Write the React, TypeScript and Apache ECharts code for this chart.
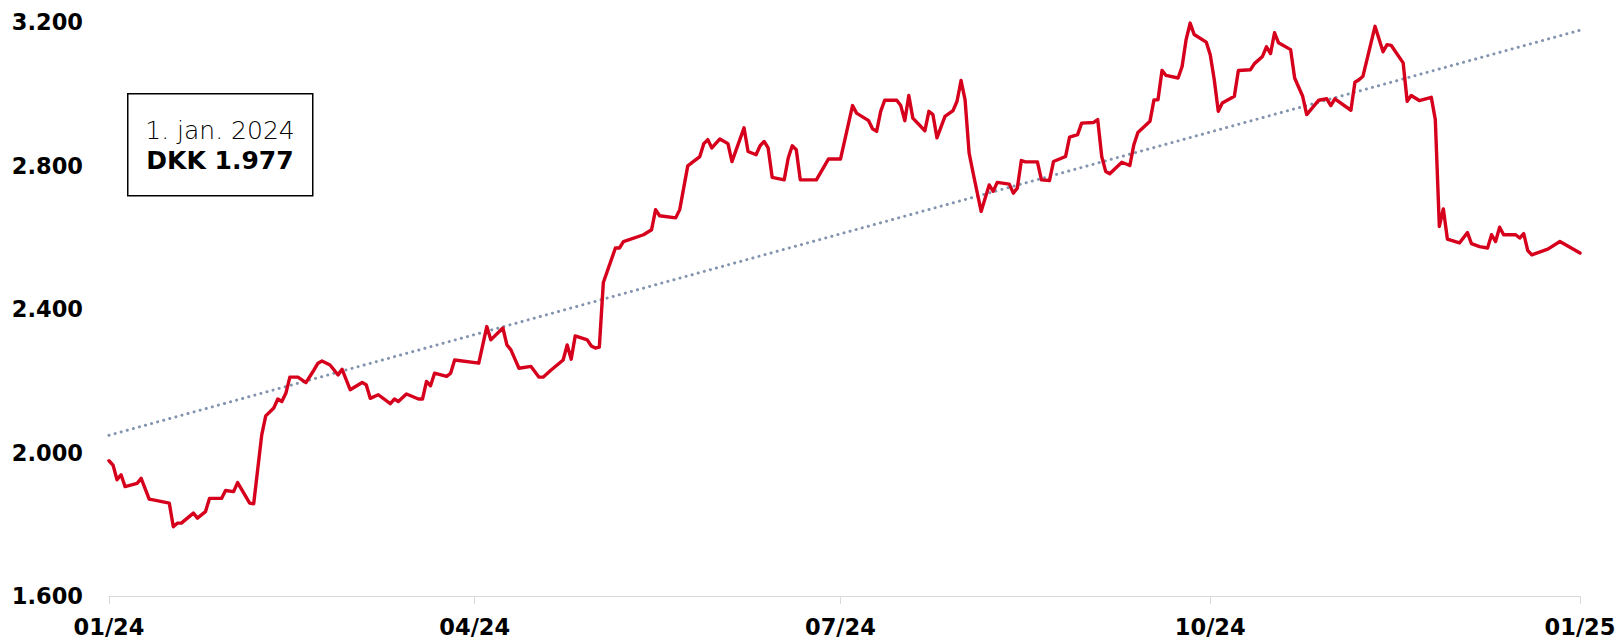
import React, { useEffect, useRef } from "react";
import * as echarts from "echarts";

const dates: string[] = [
  "2024-01-01","2024-01-02","2024-01-03","2024-01-04","2024-01-05","2024-01-08","2024-01-09","2024-01-11","2024-01-12","2024-01-16",
  "2024-01-17","2024-01-18","2024-01-19","2024-01-22","2024-01-23","2024-01-25","2024-01-26","2024-01-29","2024-01-30","2024-02-01",
  "2024-02-02","2024-02-05","2024-02-06","2024-02-08","2024-02-09","2024-02-11","2024-02-12","2024-02-13","2024-02-14","2024-02-15",
  "2024-02-17","2024-02-19","2024-02-21","2024-02-22","2024-02-23","2024-02-25","2024-02-27","2024-02-28","2024-03-01","2024-03-04",
  "2024-03-05","2024-03-06","2024-03-08","2024-03-11","2024-03-12","2024-03-13","2024-03-15","2024-03-18","2024-03-19","2024-03-20",
  "2024-03-21","2024-03-22","2024-03-25","2024-03-26","2024-03-27","2024-04-02","2024-04-04","2024-04-05","2024-04-08","2024-04-09",
  "2024-04-10","2024-04-12","2024-04-15","2024-04-17","2024-04-18","2024-04-20","2024-04-23","2024-04-24","2024-04-25","2024-04-26",
  "2024-04-29","2024-04-30","2024-05-01","2024-05-02","2024-05-03","2024-05-06","2024-05-07","2024-05-08","2024-05-13","2024-05-15",
  "2024-05-16","2024-05-17","2024-05-21","2024-05-22","2024-05-24","2024-05-27","2024-05-28","2024-05-29","2024-05-30","2024-06-01",
  "2024-06-03","2024-06-04","2024-06-07","2024-06-08","2024-06-10","2024-06-11","2024-06-12","2024-06-13","2024-06-14","2024-06-17",
  "2024-06-18","2024-06-19","2024-06-20","2024-06-21","2024-06-25","2024-06-28","2024-07-01","2024-07-04","2024-07-05","2024-07-08",
  "2024-07-09","2024-07-10","2024-07-11","2024-07-12","2024-07-15","2024-07-16","2024-07-17","2024-07-18","2024-07-19","2024-07-22",
  "2024-07-23","2024-07-24","2024-07-25","2024-07-27","2024-07-29","2024-07-30","2024-07-31","2024-08-01","2024-08-02","2024-08-03",
  "2024-08-05","2024-08-07","2024-08-08","2024-08-09","2024-08-12","2024-08-13","2024-08-14","2024-08-15","2024-08-16","2024-08-19",
  "2024-08-20","2024-08-22","2024-08-23","2024-08-26","2024-08-27","2024-08-29","2024-08-30","2024-09-02","2024-09-03","2024-09-04",
  "2024-09-05","2024-09-06","2024-09-09","2024-09-11","2024-09-12","2024-09-13","2024-09-16","2024-09-17","2024-09-18","2024-09-19",
  "2024-09-20","2024-09-23","2024-09-24","2024-09-25","2024-09-26","2024-09-27","2024-09-30","2024-10-01","2024-10-02","2024-10-03",
  "2024-10-04","2024-10-07","2024-10-08","2024-10-11","2024-10-12","2024-10-14","2024-10-15","2024-10-16","2024-10-17","2024-10-18",
  "2024-10-21","2024-10-22","2024-10-24","2024-10-25","2024-10-28","2024-10-30","2024-10-31","2024-11-01","2024-11-05","2024-11-06",
  "2024-11-07","2024-11-08","2024-11-11","2024-11-13","2024-11-14","2024-11-15","2024-11-18","2024-11-19","2024-11-20","2024-11-22",
  "2024-11-25","2024-11-26","2024-11-27","2024-11-28","2024-11-29","2024-12-02","2024-12-04","2024-12-05","2024-12-07","2024-12-09",
  "2024-12-10","2024-12-11","2024-12-12","2024-12-13","2024-12-16","2024-12-17","2024-12-18","2024-12-19","2024-12-20","2024-12-24",
  "2024-12-27","2025-01-01",
];

const prices: number[] = [
  1977,1965,1924,1938,1905,1914,1928,1870,1868,1859,
  1793,1803,1803,1831,1817,1835,1872,1872,1894,1891,
  1916,1859,1857,2049,2102,2124,2149,2142,2165,2210,
  2210,2195,2230,2249,2255,2244,2216,2232,2175,2195,
  2189,2151,2161,2136,2149,2142,2163,2149,2149,2198,
  2186,2221,2212,2221,2258,2249,2351,2314,2347,2300,
  2286,2235,2240,2210,2210,2230,2258,2300,2260,2325,
  2314,2297,2291,2294,2474,2570,2570,2588,2607,2621,
  2677,2660,2654,2677,2799,2825,2861,2872,2849,2874,
  2861,2811,2905,2839,2830,2855,2867,2849,2767,2760,
  2821,2855,2844,2760,2760,2818,2818,2967,2946,2925,
  2902,2895,2951,2982,2982,2967,2925,2995,2932,2897,
  2951,2942,2877,2937,2953,2979,3037,2983,2835,2779,
  2672,2746,2728,2753,2748,2723,2737,2814,2810,2810,
  2760,2758,2811,2825,2879,2886,2918,2920,2928,2825,
  2783,2777,2809,2800,2858,2892,2923,2983,2983,3065,
  3051,3044,3076,3151,3197,3165,3144,3109,3039,2951,
  2974,2993,3065,3067,3084,3104,3131,3112,3170,3142,
  3123,3044,2993,2942,2982,2986,2967,2986,2954,3032,
  3039,3049,3188,3117,3137,3135,3086,2979,2995,2981,
  2990,2928,2630,2679,2595,2584,2613,2582,2574,2570,
  2607,2588,2628,2607,2607,2598,2610,2563,2551,2567,
  2588,2556,
];

const trendDates: string[] = ["2024-01-01", "2025-01-01"];
const trendValues: number[] = [2048, 3177];

const xTickDates: string[] = ["2024-01-01", "2024-04-01", "2024-07-01", "2024-10-01", "2025-01-01"];
const xTickLabels: string[] = ["01/24", "04/24", "07/24", "10/24", "01/25"];
const yTicks: number[] = [1600, 2000, 2400, 2800, 3200];

const boxDate = "1. jan. 2024";
const boxValue = "DKK 1.977";

const toTs = (s: string) => {
  const [y, m, d] = s.split("-").map(Number);
  return Date.UTC(y, m - 1, d);
};

const danish = (v: number) => String(v).replace(/\B(?=(\d{3})+(?!\d))/g, ".");

export default function App() {
  const ref = useRef<HTMLDivElement>(null);
  useEffect(() => {
    if (!ref.current) return;
    const chart = echarts.init(ref.current, null, { renderer: "svg" });
    const xTickTs = xTickDates.map(toTs);
    const axisFont = "DejaVu Sans";
    chart.setOption({
      animation: false,
      backgroundColor: "#ffffff",
      grid: { left: 109, right: 42, top: 22, bottom: 44, containLabel: false },
      xAxis: {
        type: "value",
        min: xTickTs[0],
        max: xTickTs[xTickTs.length - 1],
        axisLine: { show: true, lineStyle: { color: "#d9d9d9", width: 1 } },
        axisTick: {
          show: true,
          length: 8,
          customValues: xTickTs,
          lineStyle: { color: "#d9d9d9", width: 1 },
        },
        axisLabel: {
          customValues: xTickTs,
          formatter: (v: number) => {
            const i = xTickTs.indexOf(v);
            return i >= 0 ? xTickLabels[i] : "";
          },
          color: "#000",
          fontFamily: axisFont,
          fontWeight: "bold",
          fontSize: 22.5,
          margin: 19,
          showMinLabel: true,
          showMaxLabel: true,
        },
        splitLine: { show: false },
      },
      yAxis: {
        type: "value",
        min: yTicks[0],
        max: yTicks[yTicks.length - 1],
        interval: yTicks[1] - yTicks[0],
        axisLine: { show: false },
        axisTick: { show: false },
        splitLine: { show: false },
        axisLabel: {
          formatter: (v: number) => danish(v),
          color: "#000",
          fontFamily: axisFont,
          fontWeight: "bold",
          fontSize: 22.5,
          margin: 26,
        },
      },
      series: [
        {
          type: "line",
          data: trendDates.map((d, i) => [toTs(d), trendValues[i]]),
          showSymbol: false,
          silent: true,
          lineStyle: { color: "#8394ae", width: 3, type: [0.1, 6.2], cap: "round" },
          z: 1,
        },
        {
          type: "line",
          data: dates.map((d, i) => [toTs(d), prices[i]]),
          showSymbol: false,
          lineStyle: { color: "#d6001c", width: 3.4, join: "round", cap: "round" },
          z: 2,
        },
      ],
      graphic: [
        {
          type: "rect",
          left: 127,
          top: 93,
          shape: { x: 0, y: 0, width: 185, height: 102 },
          style: { fill: "#ffffff", stroke: "#000000", lineWidth: 1.5 },
          z: 10,
        },
        {
          type: "text",
          x: 220,
          y: 145,
          z: 11,
          style: {
            text: "{a|" + boxDate + "}\n{b|" + boxValue + "}",
            align: "center",
            verticalAlign: "middle",
            rich: {
              a: {
                fontFamily: "DejaVu Sans",
                fontWeight: 200,
                fontSize: 25,
                lineHeight: 30,
                color: "#000",
                align: "center",
              },
              b: {
                fontFamily: "DejaVu Sans",
                fontWeight: "bold",
                fontSize: 25,
                lineHeight: 30,
                color: "#000",
                align: "center",
              },
            },
          },
        },
      ],
    });
    return () => chart.dispose();
  }, []);
  return (
    <div
      ref={ref}
      style={{ position: "absolute", left: 0, top: 0, width: 1622, height: 640 }}
    />
  );
}
